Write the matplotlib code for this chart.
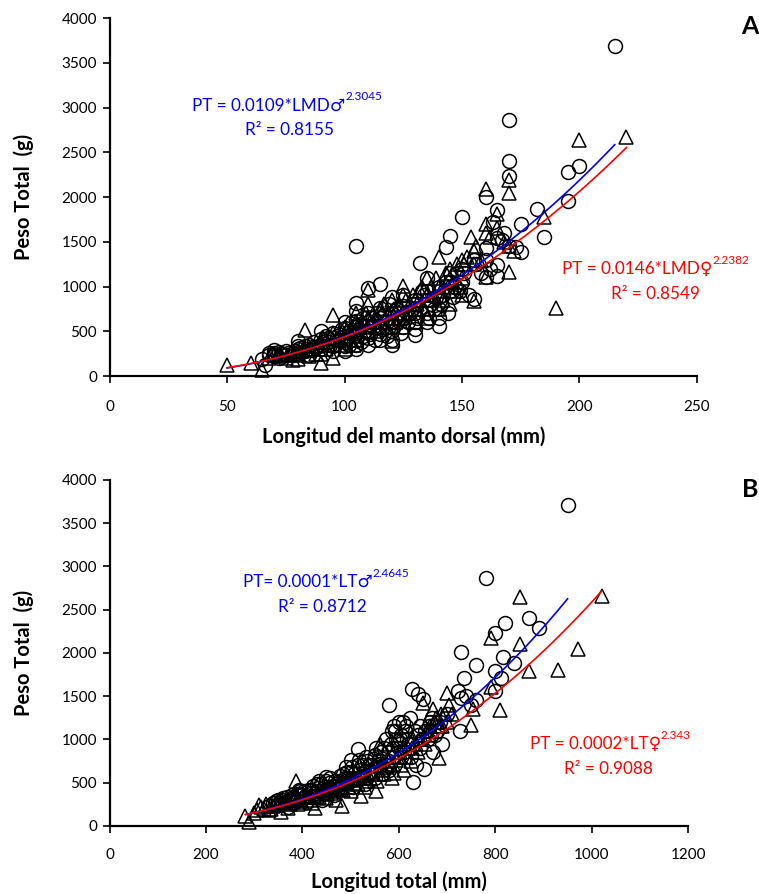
import numpy as np
import matplotlib
matplotlib.use("Agg")
import matplotlib.pyplot as plt

plt.rcParams['font.family'] = ['Lato', 'DejaVu Sans']

# ---------------- Panel A data: Longitud del manto dorsal (mm) vs Peso total (g)
lmd_circ = [65, 66, 68, 70, 70, 70, 72, 72, 75, 75, 78,
            80, 80, 80, 80, 82, 84, 85, 85, 88,
            90, 90, 90, 90, 92, 93, 95, 95, 95, 95,
            98, 100, 100, 100, 100, 100, 100, 102,
            105, 105, 105, 105, 105, 105, 105, 105, 105,
            107, 108, 110, 110, 110, 110, 110, 110, 112,
            115, 115, 115, 115, 115, 115, 118,
            120, 120, 120, 120, 120, 120, 122,
            125, 125, 125, 125, 128, 130, 130, 130, 130, 130,
            132, 133, 135, 135, 135, 135, 135, 137,
            140, 140, 140, 140, 140, 142, 143, 145, 145, 145, 145, 147,
            150, 150, 150, 153, 155, 155, 158,
            160, 160, 160, 160, 163, 165, 165, 165, 165, 167,
            170, 170, 170, 170, 173, 175, 175, 182, 185, 195, 195, 200, 215,
            68, 70, 73, 76, 79, 81, 83, 86, 87, 89, 91, 93, 94, 96, 97, 99,
            101, 102, 103, 104, 106, 107, 108, 109, 111, 112, 113, 114, 116, 117,
            118, 119, 121, 123, 124, 126, 127, 129, 131, 132, 134, 136, 138, 139,
            141, 143, 144, 146, 148, 149, 151, 156, 162, 168]
pt_circ_A = [185, 120, 230, 296, 259, 220, 270, 200, 240, 280, 230,
             389, 333, 300, 250, 270, 300, 350, 240, 320,
             500, 410, 350, 300, 450, 380, 430, 480, 330, 280,
             400, 537, 600, 450, 380, 330, 280, 500,
             815, 722, 620, 550, 480, 400, 350, 300, 1456,
             560, 450, 981, 700, 600, 500, 420, 350, 650,
             1030, 760, 650, 560, 470, 400, 600,
             880, 700, 600, 500, 400, 350, 750,
             900, 780, 650, 550, 700, 850, 700, 600, 463, 520,
             1267, 950, 1090, 950, 850, 700, 600, 800,
             1000, 880, 750, 556, 650, 900, 1444, 1567, 1150, 1050, 950, 1000,
             1778, 1200, 1050, 907, 863, 1300, 1150,
             2000, 1426, 1111, 1300, 1722, 1859, 1537, 1241, 1119, 1519,
             2863, 2404, 2233, 1450, 1444, 1696, 1389, 1870, 1556, 2278, 1956, 2344, 3693,
             260, 240, 250, 260, 280, 310, 330, 290, 380, 330, 380, 420, 350, 360, 450, 520,
             420, 350, 600, 450, 520, 380, 650, 560, 470, 550, 400, 700, 520, 680,
             450, 800, 560, 650, 480, 720, 600, 800, 650, 750, 900, 650, 750, 880,
             800, 1050, 700, 880, 1150, 950, 1150, 1250, 1200, 1600]

lmd_tri = [50, 60, 65, 68, 70, 72, 72, 75, 78, 80, 80, 80, 83, 85, 85, 88,
           90, 90, 90, 92, 95, 95, 95, 95, 98, 100, 100, 100, 102,
           105, 105, 105, 107, 110, 110, 110, 110, 110, 112, 115, 115, 118,
           120, 120, 120, 120, 122, 125, 125, 125, 125, 128,
           130, 130, 130, 132, 135, 135, 135, 137, 140, 140, 140, 142,
           145, 145, 145, 147, 150, 150, 150, 152, 155, 155, 155, 154,
           158, 160, 160, 160, 160, 165, 165, 170, 170, 170, 170, 172,
           185, 190, 200, 220,
           73, 76, 79, 82, 86, 89, 91, 93, 97, 99, 101, 103, 104, 106, 108,
           109, 111, 113, 114, 116, 117, 119, 121, 123, 124, 126, 127, 129, 131,
           133, 134, 136, 138, 139, 141, 143, 144, 146, 148, 149, 151, 156, 162, 168]
pt_tri_A = [118, 141, 67, 200, 230, 220, 250, 200, 180, 190, 230, 280, 519, 300, 220, 250,
            148, 250, 380, 300, 685, 204, 400, 480, 350, 300, 450, 550, 400,
            400, 600, 700, 500, 650, 963, 500, 550, 800, 600, 600, 750, 550,
            389, 650, 700, 850, 600, 1007, 900, 700, 550, 800,
            750, 850, 600, 950, 900, 1100, 650, 1000, 1333, 1000, 750, 850,
            800, 1200, 1100, 950, 1100, 1300, 900, 1330, 833, 1250, 1400, 1548,
            1300, 2093, 1704, 1600, 1111, 1815, 1650, 2185, 2044, 1167, 1450, 1400,
            1778, 759, 2637, 2667,
            240, 230, 260, 280, 330, 300, 420, 350, 430, 500, 500, 550, 350, 550, 600,
            700, 600, 650, 500, 700, 800, 600, 750, 800, 650, 850, 700, 900, 800,
            1000, 750, 850, 900, 1100, 950, 1150, 1000, 1050, 1250, 1000, 1250, 1450, 1550, 1500]

# ---------------- Panel B data: Longitud total (mm) vs Peso total (g)
lt_circ = [330, 340, 350, 355, 360, 365, 370, 375, 380, 385, 390, 395, 400, 400, 405, 410,
           415, 420, 425, 430, 430, 435, 440, 445, 450, 450, 455, 460, 465, 470, 475, 480,
           485, 490, 490, 495, 500, 500, 505, 510, 515, 515, 520, 525, 530, 535, 540, 545,
           550, 550, 555, 560, 565, 570, 575, 580, 580, 585, 585, 590, 595, 600, 600, 605,
           610, 615, 620, 625, 630, 628, 635, 639, 640, 645, 651, 652, 660, 665, 670, 680,
           690, 700, 722, 726, 729, 729, 735, 740, 750, 761, 761, 780, 800, 800, 800, 813,
           816, 820, 840, 870, 890, 950,
           345, 352, 358, 368, 372, 378, 383, 388, 392, 398, 403, 408, 413, 418, 423, 428,
           433, 438, 443, 448, 453, 458, 463, 468, 473, 478, 483, 488, 493, 498, 503, 508,
           513, 518, 523, 528, 533, 538, 543, 548, 553, 558, 563, 568, 573, 578, 583, 588,
           593, 598, 603, 608, 613, 618, 623, 633, 643, 648, 655, 662, 668, 675, 685]
pt_circ_B = [230, 260, 300, 250, 320, 280, 220, 300, 340, 280, 370, 400, 310, 360, 330, 280,
             380, 420, 350, 480, 400, 520, 300, 450, 570, 380, 500, 420, 360, 480, 520, 440,
             600, 680, 500, 560, 760, 620, 450, 540, 894, 700, 650, 580, 480, 750, 620, 700,
             820, 560, 680, 760, 600, 900, 700, 1399, 650, 1100, 800, 1150, 1000, 1200, 900, 1050,
             850, 1150, 950, 800, 509, 1580, 700, 1522, 1050, 900, 1472, 663, 1000, 1200, 850, 1100,
             950, 1300, 1561, 1098, 1484, 2015, 1707, 1503, 1400, 1457, 1857, 2871, 1792, 1561, 2235, 1715,
             1954, 2351, 1881, 2401, 2293, 3707,
             290, 270, 300, 330, 290, 360, 320, 300, 420, 360, 400, 360, 420, 340, 460, 380,
             440, 480, 380, 520, 430, 560, 460, 520, 440, 580, 500, 560, 620, 520, 680, 600,
             560, 760, 700, 620, 800, 700, 640, 780, 900, 720, 850, 780, 1000, 860, 950, 900,
             1100, 980, 1000, 1200, 1100, 1000, 1250, 1100, 1150, 1000, 1100, 1150, 1250, 1050, 1200]

lt_tri = [282, 290, 300, 310, 320, 330, 340, 355, 360, 370, 380, 386, 390, 400, 410, 420,
          426, 430, 440, 450, 455, 460, 470, 482, 485, 490, 500, 510, 520, 522, 530, 540,
          550, 552, 555, 561, 565, 570, 580, 585, 591, 600, 605, 610, 620, 625, 630, 640,
          650, 655, 660, 665, 670, 675, 683, 687, 690, 700, 700, 710, 750, 753, 792, 792,
          811, 851, 851, 870, 931, 971, 1021,
          305, 315, 325, 335, 345, 350, 365, 375, 385, 395, 405, 415, 425, 435, 445, 452,
          462, 467, 475, 480, 495, 505, 515, 525, 535, 545, 558, 563, 575, 588, 595, 603,
          615, 628, 635, 645, 658, 668, 678, 685, 695, 705]
pt_tri_B = [116, 46, 150, 239, 200, 180, 230, 162, 260, 210, 300, 520, 250, 280, 330, 260,
            212, 350, 400, 320, 450, 380, 300, 231, 420, 480, 400, 500, 600, 347, 450, 550,
            700, 405, 520, 944, 650, 600, 750, 560, 617, 800, 700, 650, 900, 750, 1000, 850,
            1426, 950, 1050, 1150, 1349, 1200, 790, 1291, 1150, 1541, 1200, 1300, 1168, 1349, 2177, 1607,
            1341, 2647, 2100, 1792, 1803, 2050, 2659,
            180, 220, 250, 200, 270, 240, 280, 250, 330, 300, 350, 300, 400, 330, 420, 370,
            440, 400, 480, 430, 450, 530, 480, 560, 520, 620, 600, 700, 680, 720, 760, 850,
            800, 900, 950, 1000, 1100, 1100, 1250, 1150, 1300, 1400]

# fitted power curves (PT = a * L^b)
a_male_A, b_male_A, xmax_male_A = 0.0109, 2.3045, 215
a_fem_A, b_fem_A, xmax_fem_A = 0.0146, 2.2382, 220
a_male_B, b_male_B, xmax_male_B = 0.0001204, 2.4645, 950
a_fem_B, b_fem_B, xmax_fem_B = 0.000242, 2.343, 1021
xmin_A, xmin_B = 50, 282

BLUE = '#0000FF'
RED = '#FF0000'

fig = plt.figure(figsize=(7.59, 8.94), dpi=100)
axA = fig.add_axes([0.1443, 0.5794, 0.7740, 0.4004])
axB = fig.add_axes([0.1443, 0.0761, 0.7622, 0.3870])


def style(ax, xmax, xstep, xlabel, xpad, xlab_y, xlab_va, ylab_x):
    ax.set_xlim(0, xmax)
    ax.set_ylim(0, 4000)
    ax.set_xticks(np.arange(0, xmax + 1, xstep))
    ax.set_yticks(np.arange(0, 4001, 500))
    for s in ['top', 'right']:
        ax.spines[s].set_visible(False)
    for s in ['left', 'bottom']:
        ax.spines[s].set_linewidth(1.6)
        ax.spines[s].set_color('black')
    ax.tick_params(axis='both', direction='out', length=5, width=1.2, labelsize=11)
    ax.tick_params(axis='x', pad=xpad)
    ax.tick_params(axis='y', pad=4)
    ax.set_xlabel(xlabel, fontsize=14.5, fontweight='bold')
    ax.set_ylabel('Peso Total  (g)', fontsize=14.5, fontweight='bold')
    ax.xaxis.label.set_va(xlab_va)
    ax.xaxis.set_label_coords(0.5, xlab_y)
    ax.yaxis.set_label_coords(ylab_x, 0.5)


def scatter(ax, xc, yc, xt, yt):
    ax.plot(xc, yc, linestyle='none', marker='o', markersize=10, markerfacecolor='none',
            markeredgecolor='black', markeredgewidth=1.1, clip_on=False, zorder=2)
    ax.plot(xt, yt, linestyle='none', marker='^', markersize=10, markerfacecolor='none',
            markeredgecolor='black', markeredgewidth=1.1, clip_on=False, zorder=2)


def eq(ax, x, y, main, sup, color):
    t = ax.text(x, y, main, color=color, fontsize=12.3, ha='left', va='baseline',
                transform=ax.transAxes, family=['Lato', 'DejaVu Sans'])
    ax.annotate(sup, xy=(1.0, 0.72), xycoords=t, color=color, fontsize=8.5,
                ha='left', va='bottom', family=['Lato', 'DejaVu Sans'])
    return t


def r2(ax, x, y, txt, color):
    ax.text(x, y, txt, color=color, fontsize=12.3, transform=ax.transAxes,
            ha='center', va='baseline')


# ---- Panel A
style(axA, 250, 50, 'Longitud del manto dorsal (mm)', 12, -0.142, 'top', -0.128)
scatter(axA, lmd_circ, pt_circ_A, lmd_tri, pt_tri_A)
xm = np.linspace(xmin_A, xmax_male_A, 200)
xf = np.linspace(xmin_A, xmax_fem_A, 200)
axA.plot(xm, a_male_A * xm ** b_male_A, color=BLUE, lw=1.2, zorder=3)
axA.plot(xf, a_fem_A * xf ** b_fem_A, color=RED, lw=1.2, zorder=3)
eq(axA, 0.140, 0.742, 'PT = 0.0109*LMD\u2642', '2.3045', BLUE)
r2(axA, 0.307, 0.672, 'R\u00b2 = 0.8155', BLUE)
eq(axA, 0.770, 0.284, 'PT = 0.0146*LMD\u2640', '2.2382', RED)
r2(axA, 0.930, 0.214, 'R\u00b2 = 0.8549', RED)
fig.text(0.999, 0.970, 'A', fontsize=18, fontweight='bold', ha='right', va='center')

# ---- Panel B
style(axB, 1200, 200, 'Longitud total (mm)', 11, -0.192, 'bottom', -0.130)
scatter(axB, lt_circ, pt_circ_B, lt_tri, pt_tri_B)
xm = np.linspace(xmin_B, xmax_male_B, 200)
xf = np.linspace(xmin_B, xmax_fem_B, 200)
axB.plot(xm, a_male_B * xm ** b_male_B, color=BLUE, lw=1.2, zorder=3)
axB.plot(xf, a_fem_B * xf ** b_fem_B, color=RED, lw=1.2, zorder=3)
eq(axB, 0.230, 0.690, 'PT= 0.0001*LT\u2642', '2.4645', BLUE)
r2(axB, 0.368, 0.618, 'R\u00b2 = 0.8712', BLUE)
eq(axB, 0.726, 0.222, 'PT = 0.0002*LT\u2640', '2.343', RED)
r2(axB, 0.863, 0.150, 'R\u00b2 = 0.9088', RED)
fig.text(0.999, 0.452, 'B', fontsize=18, fontweight='bold', ha='right', va='center')

fig.savefig('out.png', dpi=100)
